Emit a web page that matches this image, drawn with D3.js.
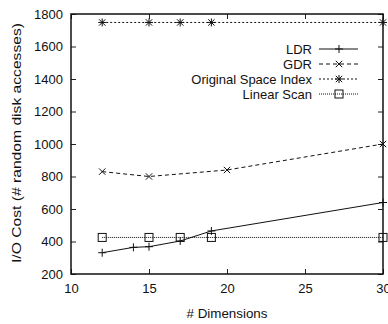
<!DOCTYPE html>
<html>
<head>
<meta charset="utf-8">
<script src="https://cdn.jsdelivr.net/npm/d3@7"></script>
<style>
body { margin: 0; background: #fff; }
text { font-family: "Liberation Sans", Arial, sans-serif; fill: #111; }
</style>
</head>
<body>
<div id="chart"></div>
<script>
// data
var ldr_x = [12, 14, 15, 17, 19, 30];
var ldr_y = [331, 364, 368, 403, 465, 640];
var gdr_x = [12, 15, 20, 30];
var gdr_y = [830, 800, 840, 1000];
var osi_x = [12, 15, 17, 19, 30];
var osi_y = [1748, 1748, 1748, 1748, 1748];
var lin_x = [12, 15, 17, 19, 30];
var lin_y = [425, 425, 425, 425, 425];
var x_ticks = [10, 15, 20, 25, 30];
var y_ticks = [200, 400, 600, 800, 1000, 1200, 1400, 1600, 1800];

var W = 388, H = 324;
var margin = { top: 14, right: 5, bottom: 50, left: 71 },
    width = W - margin.left - margin.right,
    height = H - margin.top - margin.bottom;

var svg = d3.select("#chart").append("svg")
    .attr("width", W).attr("height", H);
var g = svg.append("g")
    .attr("transform", "translate(" + margin.left + "," + margin.top + ")");

var x = d3.scaleLinear().domain([10, 30]).range([0, width]);
var y = d3.scaleLinear().domain([200, 1800]).range([height, 0]);

// ticks, drawn inward and mirrored like gnuplot
var tl = 5;
g.append("g").attr("transform", "translate(0," + height + ")")
    .call(d3.axisBottom(x).tickValues(x_ticks).tickFormat(d3.format("d")).tickSizeInner(-tl).tickSizeOuter(0).tickPadding(10))
    .call(a => a.select(".domain").remove());
g.append("g")
    .call(d3.axisTop(x).tickValues(x_ticks).tickSizeInner(-tl).tickSizeOuter(0).tickFormat(""))
    .call(a => a.select(".domain").remove());
g.append("g")
    .call(d3.axisLeft(y).tickValues(y_ticks).tickFormat(d3.format("d")).tickSizeInner(-tl).tickSizeOuter(0).tickPadding(8))
    .call(a => a.select(".domain").remove());
g.append("g").attr("transform", "translate(" + width + ",0)")
    .call(d3.axisRight(y).tickValues(y_ticks).tickSizeInner(-tl).tickSizeOuter(0).tickFormat(""))
    .call(a => a.select(".domain").remove());
g.selectAll(".tick line").attr("stroke", "#222");
g.selectAll(".tick text").attr("font-size", "13px").attr("font-family", "Liberation Sans, Arial, sans-serif").attr("fill", "#111");

g.append("rect").attr("width", width).attr("height", height)
    .attr("fill", "none").attr("stroke", "#111").attr("stroke-width", 1.5);

// markers
function marker(sel, type, px, py) {
    var s = 4;
    if (type == "plus" || type == "star") {
        sel.append("path").attr("d", "M" + (px - s) + "," + py + "H" + (px + s) + "M" + px + "," + (py - s) + "V" + (py + s))
            .attr("stroke", "#111").attr("stroke-width", 1);
    }
    if (type == "cross" || type == "star") {
        var c = 3.2;
        sel.append("path").attr("d", "M" + (px - c) + "," + (py - c) + "L" + (px + c) + "," + (py + c) + "M" + (px - c) + "," + (py + c) + "L" + (px + c) + "," + (py - c))
            .attr("stroke", "#111").attr("stroke-width", 1);
    }
    if (type == "square") {
        sel.append("rect").attr("x", px - 4).attr("y", py - 4).attr("width", 8).attr("height", 8)
            .attr("fill", "none").attr("stroke", "#111").attr("stroke-width", 1);
    }
}

var series = [
    { name: "LDR", xs: ldr_x, ys: ldr_y, dash: null, mk: "plus" },
    { name: "GDR", xs: gdr_x, ys: gdr_y, dash: "4,3", mk: "cross" },
    { name: "Original Space Index", xs: osi_x, ys: osi_y, dash: "2,2", mk: "star" },
    { name: "Linear Scan", xs: lin_x, ys: lin_y, dash: "1,1", mk: "square" }
];

var line = d3.line().x(d => x(d[0])).y(d => y(d[1]));

series.forEach(function (s, i) {
    var pts = s.xs.map((v, j) => [v, s.ys[j]]);
    g.append("path").datum(pts).attr("d", line)
        .attr("fill", "none").attr("stroke", "#111").attr("stroke-width", 1)
        .attr("stroke-dasharray", s.dash);
    pts.forEach(p => marker(g, s.mk, x(p[0]), y(p[1])));

    // legend
    var ly = 49 + i * 15;
    svg.append("text").attr("x", 312).attr("y", ly).attr("dy", "0.35em")
        .attr("text-anchor", "end").attr("font-size", "13px").text(s.name);
    svg.append("line").attr("x1", 319).attr("x2", 358).attr("y1", ly).attr("y2", ly)
        .attr("stroke", "#111").attr("stroke-width", 1).attr("stroke-dasharray", s.dash);
    marker(svg, s.mk, 339, ly);
});

// axis titles
svg.append("text").attr("x", 227).attr("y", 318)
    .attr("text-anchor", "middle").attr("font-size", "13px")
    .attr("textLength", 81).attr("lengthAdjust", "spacingAndGlyphs").text("# Dimensions");
svg.append("text").attr("transform", "translate(21,143) rotate(-90)")
    .attr("text-anchor", "middle").attr("font-size", "13px")
    .attr("textLength", 240).attr("lengthAdjust", "spacingAndGlyphs").text("I/O Cost (# random disk accesses)");
</script>
</body>
</html>
